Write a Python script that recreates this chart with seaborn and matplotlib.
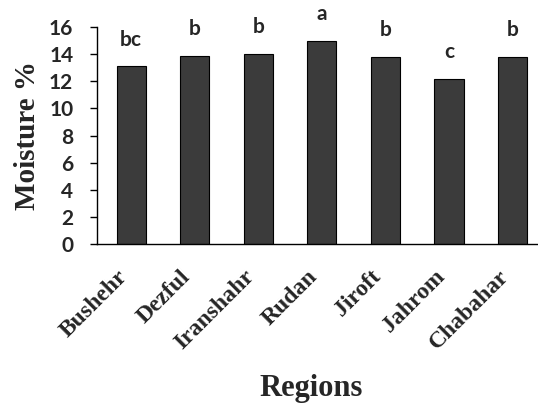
import matplotlib
matplotlib.use("Agg")
import matplotlib.pyplot as plt
import seaborn as sns
import pandas as pd

regions = ["Bushehr", "Dezful", "Iranshahr", "Rudan", "Jiroft", "Jahrom", "Chabahar"]
moisture = [13.1, 13.9, 14.05, 15.0, 13.8, 12.2, 13.8]
groups = ["bc", "b", "b", "a", "b", "c", "b"]
yticks = [0, 2, 4, 6, 8, 10, 12, 14, 16]

df = pd.DataFrame({"Region": regions, "Moisture": moisture})

sns.set_theme(style="ticks")
plt.rcParams["font.family"] = ["Lato", "DejaVu Sans"]

fig = plt.figure(figsize=(5.38, 4.05), dpi=100)
ax = fig.add_axes([0.180, 0.3975, 0.82, 0.5355])

sns.barplot(data=df, x="Region", y="Moisture", ax=ax, color="#3b3b3b",
            edgecolor="black", linewidth=0.8, width=0.46, saturation=1)

ax.set_ylim(0, 16)
ax.set_xlim(-0.54, 6.4)
ax.set_yticks(yticks)
ax.set_yticklabels([str(t) for t in yticks], fontsize=15, fontweight="bold",
                   family=["Lato", "DejaVu Sans"])

for i, (v, g) in enumerate(zip(moisture, groups)):
    ax.annotate(g, (i, v), xytext=(0, 15), textcoords="offset points",
                ha="center", va="baseline", fontsize=15, fontweight="bold",
                family=["Lato", "DejaVu Sans"])

ax.set_xticks(range(len(regions)))
ax.set_xticklabels(regions, rotation=45, ha="right",
                   fontsize=17, fontweight="bold", family="Liberation Serif")
ax.tick_params(axis="x", length=0, pad=16)
ax.tick_params(axis="y", length=5, width=1, color="black", pad=12, direction="out")

ax.set_ylabel("Moisture %", fontsize=21, fontweight="bold",
              family="Liberation Serif", labelpad=6)
ax.set_xlabel("")
fig.text(0.578, 0.04, "Regions", ha="center", va="center", fontsize=22,
         fontweight="bold", family="Liberation Serif")

for side in ["top", "right"]:
    ax.spines[side].set_visible(False)
for side in ["left", "bottom"]:
    ax.spines[side].set_color("black")
    ax.spines[side].set_linewidth(1)

fig.savefig("out.png", dpi=100, facecolor="white")
